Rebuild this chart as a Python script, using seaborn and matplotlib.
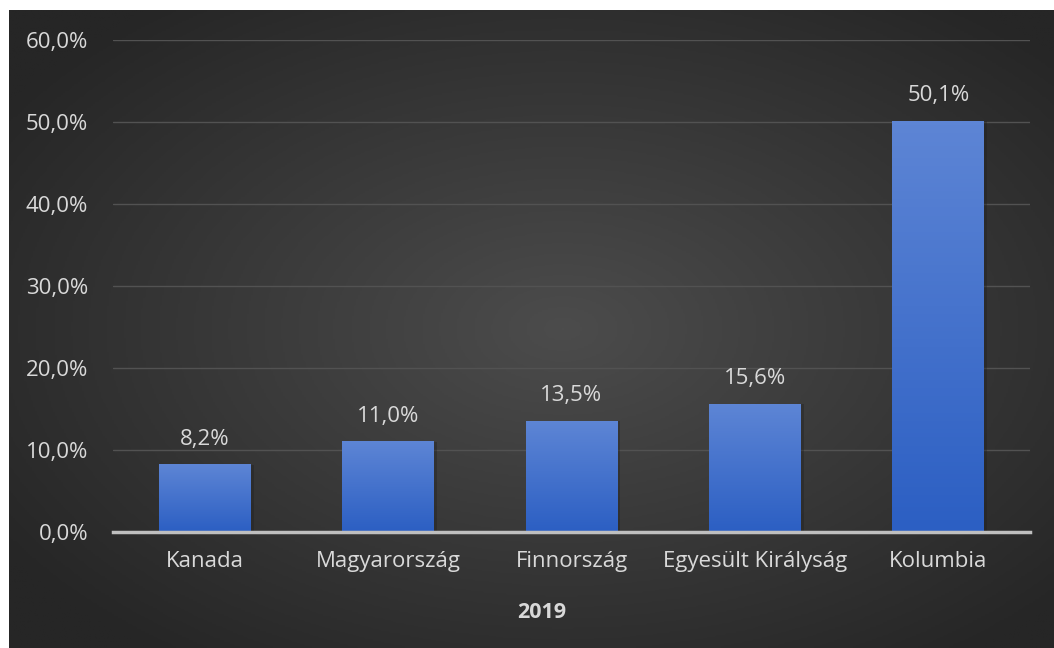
import numpy as np
import pandas as pd
import matplotlib
matplotlib.use("Agg")
import matplotlib.pyplot as plt
import seaborn as sns
from matplotlib.colors import LinearSegmentedColormap

# data
countries = ["Kanada", "Magyarország", "Finnország", "Egyesült Királyság", "Kolumbia"]
shares = [8.2, 11.0, 13.5, 15.6, 50.1]
y_ticks = [0, 10, 20, 30, 40, 50, 60]
x_title = "2019"

TEXT = "#d9d9d9"
W, H = 1054, 648


def pct(v):
    return f"{v:.1f}%".replace(".", ",")


sns.set_theme(style="dark")
plt.rcParams["font.family"] = ["Open Sans", "DejaVu Sans"]

fig = plt.figure(figsize=(W / 100, H / 100), dpi=100, facecolor="white")

# dark radial background behind the chart
bg = fig.add_axes([9 / W, 0, 1 - 9 / W, 638 / H])
yy, xx = np.mgrid[0:1:300j, 0:1:500j]
r = np.sqrt(((xx - 0.53) / 0.8) ** 2 + ((yy - 0.5) / 0.8) ** 2)
bg_cmap = LinearSegmentedColormap.from_list("bg", ["#4c4c4c", "#262626"])
bg.imshow(r, cmap=bg_cmap, aspect="auto", extent=[0, 1, 0, 1], vmin=0, vmax=0.8)
bg.set_axis_off()

# main plot area
ax = fig.add_axes([113 / W, 116 / H, 917 / W, 492 / H])
ax.patch.set_alpha(0)

df = pd.DataFrame({"country": countries, "share": shares})
sns.barplot(data=df, x="country", y="share", color="#4472c4", width=0.5,
            edgecolor="none", linewidth=0, ax=ax)

# vertical gradient on each bar, with a faint shadow to the right
bar_cmap = LinearSegmentedColormap.from_list("bar", ["#2c5fc3", "#5d85d5"])
grad = np.linspace(0, 1, 100).reshape(-1, 1)
for p in ax.patches:
    x0, w, h = p.get_x(), p.get_width(), p.get_height()
    ax.bar(x0 + w / 2 + 0.012, h, width=w + 0.01, color="#1e1e1e", alpha=0.35,
           linewidth=0, zorder=p.get_zorder() - 0.1)
    ax.imshow(grad, extent=[x0, x0 + w, 0, h], cmap=bar_cmap, aspect="auto",
              origin="lower", zorder=p.get_zorder() + 0.1)

for i, v in enumerate(shares):
    ax.text(i, v + 3.1, pct(v), ha="center", va="center", color=TEXT, fontsize=16)

ax.set_xlim(-0.5, len(countries) - 0.5)
ax.set_ylim(0, 60)
ax.set_yticks(y_ticks)
ax.set_yticklabels([pct(t) for t in y_ticks])
ax.tick_params(axis="y", length=0, pad=18, labelsize=16, labelcolor=TEXT)
ax.tick_params(axis="x", length=0, pad=14, labelsize=16, labelcolor=TEXT)
ax.set_xlabel("")
ax.set_ylabel("")

ax.grid(axis="y", color="#525252", linewidth=1)
ax.set_axisbelow(True)
for side in ["top", "right", "left"]:
    ax.spines[side].set_visible(False)
ax.spines["bottom"].set_color("#bfbfbf")
ax.spines["bottom"].set_linewidth(2.5)
ax.spines["bottom"].set_zorder(5)

fig.text(542 / W, 1 - 612 / H, x_title, ha="center", va="center",
         fontweight="bold", fontsize=15.5, color=TEXT)

fig.savefig("out.png", dpi=100, facecolor="white")
